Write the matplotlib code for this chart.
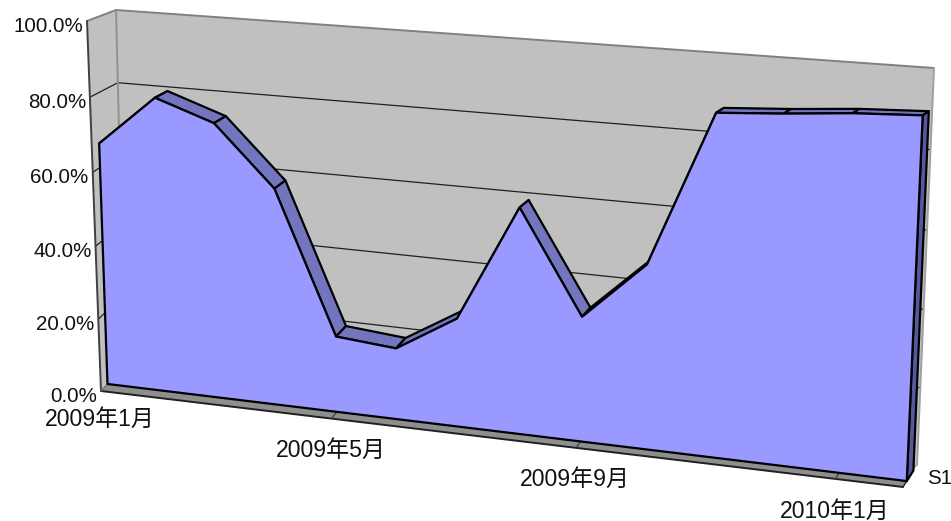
import numpy as np
import matplotlib
matplotlib.use("Agg")
import matplotlib.pyplot as plt

plt.rcParams['font.family'] = ['Liberation Sans', 'Noto Sans CJK JP', 'DejaVu Sans']

months = np.arange(14)
values = [66.5, 80, 74.5, 58.5, 20.5, 19.1, 28.8, 59.3, 32.7, 47.8, 87, 88, 89.3, 90]
y_ticks = [0, 20, 40, 60, 80, 100]
y_tick_labels = ['0.0%', '20.0%', '40.0%', '60.0%', '80.0%', '100.0%']
x_ticks = [0, 4, 8, 12]
x_tick_labels = ['2009年1月', '2009年5月', '2009年9月', '2010年1月']
series_label = 'S1'

# Pixel corners of the projected chart box: (left/right, value 0/100) at front and back
FRONT = dict(l0=(101, 391), l1=(87, 21), r0=(903, 487), r1=(921, 75))
BACK = dict(l0=(125, 365), l1=(116, 10), r0=(917, 465), r1=(934, 68))
M_MAX = 13.0
D_FRONT, D_BACK = 0.27, 0.74


def homography(l0, r0, r1, l1):
    x0, y0 = l0; x1, y1 = r0; x2, y2 = r1; x3, y3 = l1
    dx1, dx2 = x1 - x2, x3 - x2
    dy1, dy2 = y1 - y2, y3 - y2
    sx, sy = x0 - x1 + x2 - x3, y0 - y1 + y2 - y3
    den = dx1 * dy2 - dx2 * dy1
    g = (sx * dy2 - dx2 * sy) / den
    h = (dx1 * sy - sx * dy1) / den
    return np.array([[x1 - x0 + g * x1, x3 - x0 + h * x3, x0],
                     [y1 - y0 + g * y1, y3 - y0 + h * y3, y0],
                     [g, h, 1.0]])


def project(m, p, d=0.0):
    m, p = np.broadcast_arrays(np.asarray(m, float), np.asarray(p, float))
    c = {k: (1 - d) * np.array(FRONT[k], float) + d * np.array(BACK[k], float) for k in FRONT}
    H = homography(c['l0'], c['r0'], c['r1'], c['l1'])
    u = m.ravel() / M_MAX
    u = u + 0.004 * np.sin(np.pi * u)
    v = H @ np.vstack([u, p.ravel() / 100.0, np.ones(m.size)])
    return v[0] / v[2], v[1] / v[2]


fig = plt.figure(figsize=(9.51, 5.21), dpi=100)
ax = fig.add_axes([0, 0, 1, 1])
ax.set_xlim(0, 951)
ax.set_ylim(521, 0)
ax.set_axis_off()


def quad(m1, p1, d1, m2, p2, d2, m3, p3, d3, m4, p4, d4, **kw):
    pts = [project(m, p, d) for m, p, d in
           [(m1, p1, d1), (m2, p2, d2), (m3, p3, d3), (m4, p4, d4)]]
    ax.fill([float(q[0][0]) for q in pts], [float(q[1][0]) for q in pts], **kw)


def seg(a, b, **kw):
    pa, pb = project(*a), project(*b)
    ax.plot([pa[0][0], pb[0][0]], [pa[1][0], pb[1][0]], solid_capstyle='round', **kw)


WALL = '#C0C0C0'
# walls
quad(0, 0, 1, M_MAX, 0, 1, M_MAX, 100, 1, 0, 100, 1, fc=WALL, ec='none', zorder=1)
quad(0, 0, 0, 0, 0, 1, 0, 100, 1, 0, 100, 0, fc=WALL, ec='none', zorder=1)
quad(0, 0, 0, M_MAX, 0, 0, M_MAX, 0, 1, 0, 0, 1, fc='#8E8E8E', ec='none', zorder=1)

# gridlines on the walls
for p in y_ticks[1:-1]:
    seg((0, p, 0), (0, p, 1), color='#202020', lw=0.9, zorder=2)
    seg((0, p, 1), (M_MAX, p, 1), color='#202020', lw=0.9, zorder=2)

# wall edges
seg((0, 100, 0), (0, 100, 1), color='#808080', lw=1.4, zorder=2)
seg((0, 100, 1), (M_MAX, 100, 1), color='#808080', lw=1.4, zorder=2)
seg((M_MAX, 100, 1), (M_MAX, 0, 1), color='#A0A0A0', lw=1.4, zorder=2)
seg((0, 100, 1), (0, 0, 1), color='#909090', lw=1.4, zorder=2)
seg((0, 100, 0), (0, 0, 0), color='#404040', lw=1.4, zorder=4)
seg((0, 0, 0), (M_MAX, 0, 0), color='#202020', lw=1.4, zorder=4)
seg((0, 0, 0), (0, 0, D_FRONT), color='#707070', lw=1.0, zorder=4)
seg((M_MAX, 0, 0), (M_MAX, 0, D_FRONT), color='#202020', lw=1.0, zorder=4)

# floor tick marks
for m in x_ticks[1:]:
    seg((m, 0, 0), (m, 0, D_FRONT), color='#404040', lw=0.9, zorder=4)

# area: top faces, side face, front face
for i in range(len(months) - 1):
    quad(months[i], values[i], D_FRONT, months[i + 1], values[i + 1], D_FRONT,
         months[i + 1], values[i + 1], D_BACK, months[i], values[i], D_BACK,
         fc='#7375BE', ec='black', lw=1.6, joinstyle='round', zorder=3)
quad(M_MAX, 0, D_FRONT, M_MAX, 0, D_BACK, M_MAX, values[-1], D_BACK, M_MAX, values[-1], D_FRONT,
     fc='#56589E', ec='black', lw=1.6, joinstyle='round', zorder=3)
fx, fy = project(months, values, D_FRONT)
bx, by = project(months[[-1, 0]], [0, 0], D_FRONT)
ax.fill(np.r_[fx, bx], np.r_[fy, by], fc='#9999FF', ec='black', lw=1.6, joinstyle='round', zorder=5)

# labels
for p, lab in zip(y_ticks, y_tick_labels):
    x, y = project(0, p, 0)
    ax.text(x[0] - 4, y[0] + 5, lab, ha='right', va='center', fontsize=14.8, color='#111111', zorder=6)
for m, lab in zip(x_ticks, x_tick_labels):
    x, y = project(m, 0, 0)
    ax.text(x[0] - 1, y[0] + (28 if m == 0 else 32), lab, ha='center', va='center', fontsize=16.6, color='#111111', zorder=6)
x, y = project(M_MAX, 0, 0)
ax.text(x[0] + 24, y[0] - 8, series_label, ha='left', va='center', fontsize=14.8, color='#111111', zorder=6)

fig.savefig('out.png', dpi=100)
